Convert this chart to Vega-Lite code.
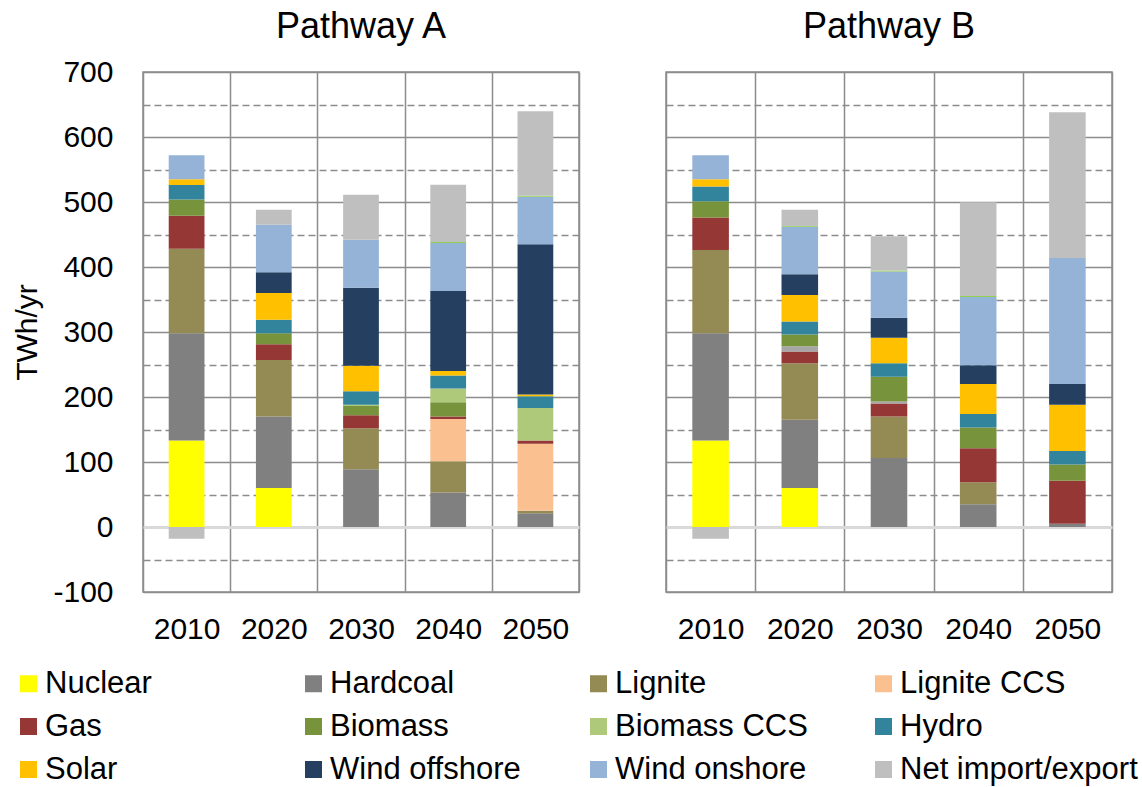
{
  "$schema": "https://vega.github.io/schema/vega-lite/v6.json",
  "padding": {"left": 12, "top": 8, "right": 5, "bottom": 5},
  "config": {
    "font": "Liberation Sans",
    "view": {"stroke": "#8c8c8c", "strokeWidth": 1.5},
    "concat": {"spacing": 85},
    "title": {"fontSize": 36, "fontWeight": "normal", "color": "#000000"},
    "axis": {"labelColor": "#000000", "titleColor": "#000000"}
  },
  "datasets": {
    "stackorder": [
      {"source": "Nuclear", "rank": 1},
      {"source": "Hardcoal", "rank": 2},
      {"source": "Lignite", "rank": 3},
      {"source": "Lignite CCS", "rank": 4},
      {"source": "Gas", "rank": 5},
      {"source": "Other", "rank": 6},
      {"source": "Biomass", "rank": 7},
      {"source": "Biomass CCS", "rank": 8},
      {"source": "Hydro", "rank": 9},
      {"source": "Solar", "rank": 10},
      {"source": "Wind offshore", "rank": 11},
      {"source": "Wind onshore", "rank": 12},
      {"source": "Other RES", "rank": 13},
      {"source": "Net import/export", "rank": 14}
    ],
    "energy": [
      {"pathway": "A", "year": "2010", "source": "Nuclear", "value": 133},
      {"pathway": "A", "year": "2010", "source": "Hardcoal", "value": 165},
      {"pathway": "A", "year": "2010", "source": "Lignite", "value": 130},
      {"pathway": "A", "year": "2010", "source": "Gas", "value": 51},
      {"pathway": "A", "year": "2010", "source": "Biomass", "value": 25},
      {"pathway": "A", "year": "2010", "source": "Hydro", "value": 22},
      {"pathway": "A", "year": "2010", "source": "Solar", "value": 9},
      {"pathway": "A", "year": "2010", "source": "Wind onshore", "value": 37},
      {"pathway": "A", "year": "2010", "source": "Net import/export", "value": -18},
      {"pathway": "A", "year": "2020", "source": "Nuclear", "value": 60},
      {"pathway": "A", "year": "2020", "source": "Hardcoal", "value": 110},
      {"pathway": "A", "year": "2020", "source": "Lignite", "value": 87},
      {"pathway": "A", "year": "2020", "source": "Gas", "value": 24},
      {"pathway": "A", "year": "2020", "source": "Biomass", "value": 17},
      {"pathway": "A", "year": "2020", "source": "Hydro", "value": 21},
      {"pathway": "A", "year": "2020", "source": "Solar", "value": 41},
      {"pathway": "A", "year": "2020", "source": "Wind offshore", "value": 32},
      {"pathway": "A", "year": "2020", "source": "Wind onshore", "value": 73},
      {"pathway": "A", "year": "2020", "source": "Net import/export", "value": 23},
      {"pathway": "A", "year": "2030", "source": "Hardcoal", "value": 89},
      {"pathway": "A", "year": "2030", "source": "Lignite", "value": 63},
      {"pathway": "A", "year": "2030", "source": "Gas", "value": 20},
      {"pathway": "A", "year": "2030", "source": "Biomass", "value": 14},
      {"pathway": "A", "year": "2030", "source": "Biomass CCS", "value": 2},
      {"pathway": "A", "year": "2030", "source": "Hydro", "value": 21},
      {"pathway": "A", "year": "2030", "source": "Solar", "value": 39},
      {"pathway": "A", "year": "2030", "source": "Wind offshore", "value": 120},
      {"pathway": "A", "year": "2030", "source": "Wind onshore", "value": 74},
      {"pathway": "A", "year": "2030", "source": "Net import/export", "value": 69},
      {"pathway": "A", "year": "2040", "source": "Hardcoal", "value": 53},
      {"pathway": "A", "year": "2040", "source": "Lignite", "value": 48},
      {"pathway": "A", "year": "2040", "source": "Lignite CCS", "value": 65},
      {"pathway": "A", "year": "2040", "source": "Gas", "value": 4},
      {"pathway": "A", "year": "2040", "source": "Biomass", "value": 22},
      {"pathway": "A", "year": "2040", "source": "Biomass CCS", "value": 21},
      {"pathway": "A", "year": "2040", "source": "Hydro", "value": 20},
      {"pathway": "A", "year": "2040", "source": "Solar", "value": 7},
      {"pathway": "A", "year": "2040", "source": "Wind offshore", "value": 123},
      {"pathway": "A", "year": "2040", "source": "Wind onshore", "value": 74},
      {"pathway": "A", "year": "2040", "source": "Other RES", "value": 1.5},
      {"pathway": "A", "year": "2040", "source": "Net import/export", "value": 88},
      {"pathway": "A", "year": "2050", "source": "Hardcoal", "value": 21},
      {"pathway": "A", "year": "2050", "source": "Lignite", "value": 4},
      {"pathway": "A", "year": "2050", "source": "Lignite CCS", "value": 103},
      {"pathway": "A", "year": "2050", "source": "Gas", "value": 5},
      {"pathway": "A", "year": "2050", "source": "Biomass CCS", "value": 50},
      {"pathway": "A", "year": "2050", "source": "Hydro", "value": 18},
      {"pathway": "A", "year": "2050", "source": "Solar", "value": 3},
      {"pathway": "A", "year": "2050", "source": "Wind offshore", "value": 231},
      {"pathway": "A", "year": "2050", "source": "Wind onshore", "value": 73},
      {"pathway": "A", "year": "2050", "source": "Other RES", "value": 1.5},
      {"pathway": "A", "year": "2050", "source": "Net import/export", "value": 130},
      {"pathway": "B", "year": "2010", "source": "Nuclear", "value": 133},
      {"pathway": "B", "year": "2010", "source": "Hardcoal", "value": 165},
      {"pathway": "B", "year": "2010", "source": "Lignite", "value": 128},
      {"pathway": "B", "year": "2010", "source": "Gas", "value": 50},
      {"pathway": "B", "year": "2010", "source": "Biomass", "value": 25},
      {"pathway": "B", "year": "2010", "source": "Hydro", "value": 23},
      {"pathway": "B", "year": "2010", "source": "Solar", "value": 11},
      {"pathway": "B", "year": "2010", "source": "Wind onshore", "value": 37},
      {"pathway": "B", "year": "2010", "source": "Net import/export", "value": -18},
      {"pathway": "B", "year": "2020", "source": "Nuclear", "value": 60},
      {"pathway": "B", "year": "2020", "source": "Hardcoal", "value": 105},
      {"pathway": "B", "year": "2020", "source": "Lignite", "value": 87},
      {"pathway": "B", "year": "2020", "source": "Gas", "value": 18},
      {"pathway": "B", "year": "2020", "source": "Other", "value": 8},
      {"pathway": "B", "year": "2020", "source": "Biomass", "value": 18},
      {"pathway": "B", "year": "2020", "source": "Hydro", "value": 20},
      {"pathway": "B", "year": "2020", "source": "Solar", "value": 41},
      {"pathway": "B", "year": "2020", "source": "Wind offshore", "value": 32},
      {"pathway": "B", "year": "2020", "source": "Wind onshore", "value": 73},
      {"pathway": "B", "year": "2020", "source": "Other RES", "value": 1},
      {"pathway": "B", "year": "2020", "source": "Net import/export", "value": 25},
      {"pathway": "B", "year": "2030", "source": "Hardcoal", "value": 106},
      {"pathway": "B", "year": "2030", "source": "Lignite", "value": 64},
      {"pathway": "B", "year": "2030", "source": "Gas", "value": 20},
      {"pathway": "B", "year": "2030", "source": "Other", "value": 3},
      {"pathway": "B", "year": "2030", "source": "Biomass", "value": 38},
      {"pathway": "B", "year": "2030", "source": "Hydro", "value": 21},
      {"pathway": "B", "year": "2030", "source": "Solar", "value": 39},
      {"pathway": "B", "year": "2030", "source": "Wind offshore", "value": 31},
      {"pathway": "B", "year": "2030", "source": "Wind onshore", "value": 71},
      {"pathway": "B", "year": "2030", "source": "Other RES", "value": 1.5},
      {"pathway": "B", "year": "2030", "source": "Net import/export", "value": 53},
      {"pathway": "B", "year": "2040", "source": "Hardcoal", "value": 35},
      {"pathway": "B", "year": "2040", "source": "Lignite", "value": 34},
      {"pathway": "B", "year": "2040", "source": "Gas", "value": 52},
      {"pathway": "B", "year": "2040", "source": "Biomass", "value": 32},
      {"pathway": "B", "year": "2040", "source": "Hydro", "value": 21},
      {"pathway": "B", "year": "2040", "source": "Solar", "value": 46},
      {"pathway": "B", "year": "2040", "source": "Wind offshore", "value": 29},
      {"pathway": "B", "year": "2040", "source": "Wind onshore", "value": 105},
      {"pathway": "B", "year": "2040", "source": "Other RES", "value": 1.5},
      {"pathway": "B", "year": "2040", "source": "Net import/export", "value": 144},
      {"pathway": "B", "year": "2050", "source": "Hardcoal", "value": 5},
      {"pathway": "B", "year": "2050", "source": "Gas", "value": 66},
      {"pathway": "B", "year": "2050", "source": "Biomass", "value": 25},
      {"pathway": "B", "year": "2050", "source": "Hydro", "value": 21},
      {"pathway": "B", "year": "2050", "source": "Solar", "value": 71},
      {"pathway": "B", "year": "2050", "source": "Wind offshore", "value": 32},
      {"pathway": "B", "year": "2050", "source": "Wind onshore", "value": 194},
      {"pathway": "B", "year": "2050", "source": "Net import/export", "value": 224}
    ]
  },
  "data": {"name": "energy"},
  "hconcat": [
    {
      "title": {"text": "Pathway A", "offset": 11},
      "width": 436,
      "height": 520,
      "transform": [
        {"filter": "datum.pathway === 'A'"},
        {"lookup": "source", "from": {"data": {"name": "stackorder"}, "key": "source", "fields": ["rank"]}}
      ],
      "mark": {"type": "bar", "width": {"band": 0.41}},
      "encoding": {
        "x": {
          "field": "year", "type": "nominal",
          "scale": {"paddingInner": 0, "paddingOuter": 0},
          "axis": {"title": null, "labelAngle": 0, "labelFontSize": 30, "labelPadding": 22, "ticks": false, "domain": false, "grid": true, "tickBand": "extent", "gridColor": "#8c8c8c", "gridWidth": 1.5}
        },
        "y": {
          "field": "value", "type": "quantitative", "stack": "zero",
          "scale": {"domain": [-100, 700], "nice": false, "zero": false},
          "axis": {
            "values": [-100, -50, 0, 50, 100, 150, 200, 250, 300, 350, 400, 450, 500, 550, 600, 650, 700],
            "labelExpr": "datum.value % 100 === 0 ? toString(datum.value) : ''",
            "grid": true,
            "gridColor": {"condition": {"test": "datum.value === 0", "value": "#d9d9d9"}, "value": "#8c8c8c"},
            "gridDash": {"condition": {"test": "datum.value % 100 !== 0", "value": [7, 4]}, "value": []},
            "gridWidth": {"condition": {"test": "datum.value === 0", "value": 3}, "value": 1.5},
            "ticks": false, "domain": false,
            "labelFontSize": 30, "labelPadding": 30,
            "title": "TWh/yr", "titleFontSize": 30, "titleFontWeight": "normal", "titlePadding": 10
          }
        },
        "order": {"field": "rank", "type": "quantitative", "sort": "ascending"},
        "color": {
          "field": "source", "type": "nominal",
          "scale": {
            "domain": ["Nuclear", "Hardcoal", "Lignite", "Lignite CCS", "Gas", "Other", "Biomass", "Biomass CCS", "Hydro", "Solar", "Wind offshore", "Wind onshore", "Other RES", "Net import/export"],
            "range": ["#ffff00", "#808080", "#948a54", "#fac090", "#953735", "#a6a6a6", "#77933c", "#afc97a", "#31849b", "#ffc000", "#243f60", "#95b3d7", "#92d050", "#bfbfbf"]
          },
          "legend": {
            "orient": "none", "legendX": -130, "legendY": 596,
            "columns": 4, "direction": "horizontal", "gridAlign": "all",
            "title": null, "symbolType": "square", "symbolSize": 289,
            "symbolStrokeWidth": 0, "symbolOpacity": 1,
            "labelFontSize": 31, "labelOffset": 1, "labelLimit": 400,
            "columnPadding": 15, "rowPadding": 11,
            "values": ["Nuclear", "Hardcoal", "Lignite", "Lignite CCS", "Gas", "Biomass", "Biomass CCS", "Hydro", "Solar", "Wind offshore", "Wind onshore", "Net import/export"]
          }
        }
      }
    },
    {
      "title": {"text": "Pathway B", "offset": 26},
      "width": 446,
      "height": 520,
      "transform": [
        {"filter": "datum.pathway === 'B'"},
        {"lookup": "source", "from": {"data": {"name": "stackorder"}, "key": "source", "fields": ["rank"]}}
      ],
      "mark": {"type": "bar", "width": {"band": 0.41}},
      "encoding": {
        "x": {
          "field": "year", "type": "nominal",
          "scale": {"paddingInner": 0, "paddingOuter": 0},
          "axis": {"title": null, "labelAngle": 0, "labelFontSize": 30, "labelPadding": 22, "ticks": false, "domain": false, "grid": true, "tickBand": "extent", "gridColor": "#8c8c8c", "gridWidth": 1.5}
        },
        "y": {
          "field": "value", "type": "quantitative", "stack": "zero",
          "scale": {"domain": [-100, 700], "nice": false, "zero": false},
          "axis": {
            "values": [-100, -50, 0, 50, 100, 150, 200, 250, 300, 350, 400, 450, 500, 550, 600, 650, 700],
            "labels": false,
            "grid": true,
            "gridColor": {"condition": {"test": "datum.value === 0", "value": "#d9d9d9"}, "value": "#8c8c8c"},
            "gridDash": {"condition": {"test": "datum.value % 100 !== 0", "value": [7, 4]}, "value": []},
            "gridWidth": {"condition": {"test": "datum.value === 0", "value": 3}, "value": 1.5},
            "ticks": false, "domain": false, "title": null
          }
        },
        "order": {"field": "rank", "type": "quantitative", "sort": "ascending"},
        "color": {"field": "source", "type": "nominal"}
      }
    }
  ],
  "resolve": {"scale": {"color": "shared"}}
}
